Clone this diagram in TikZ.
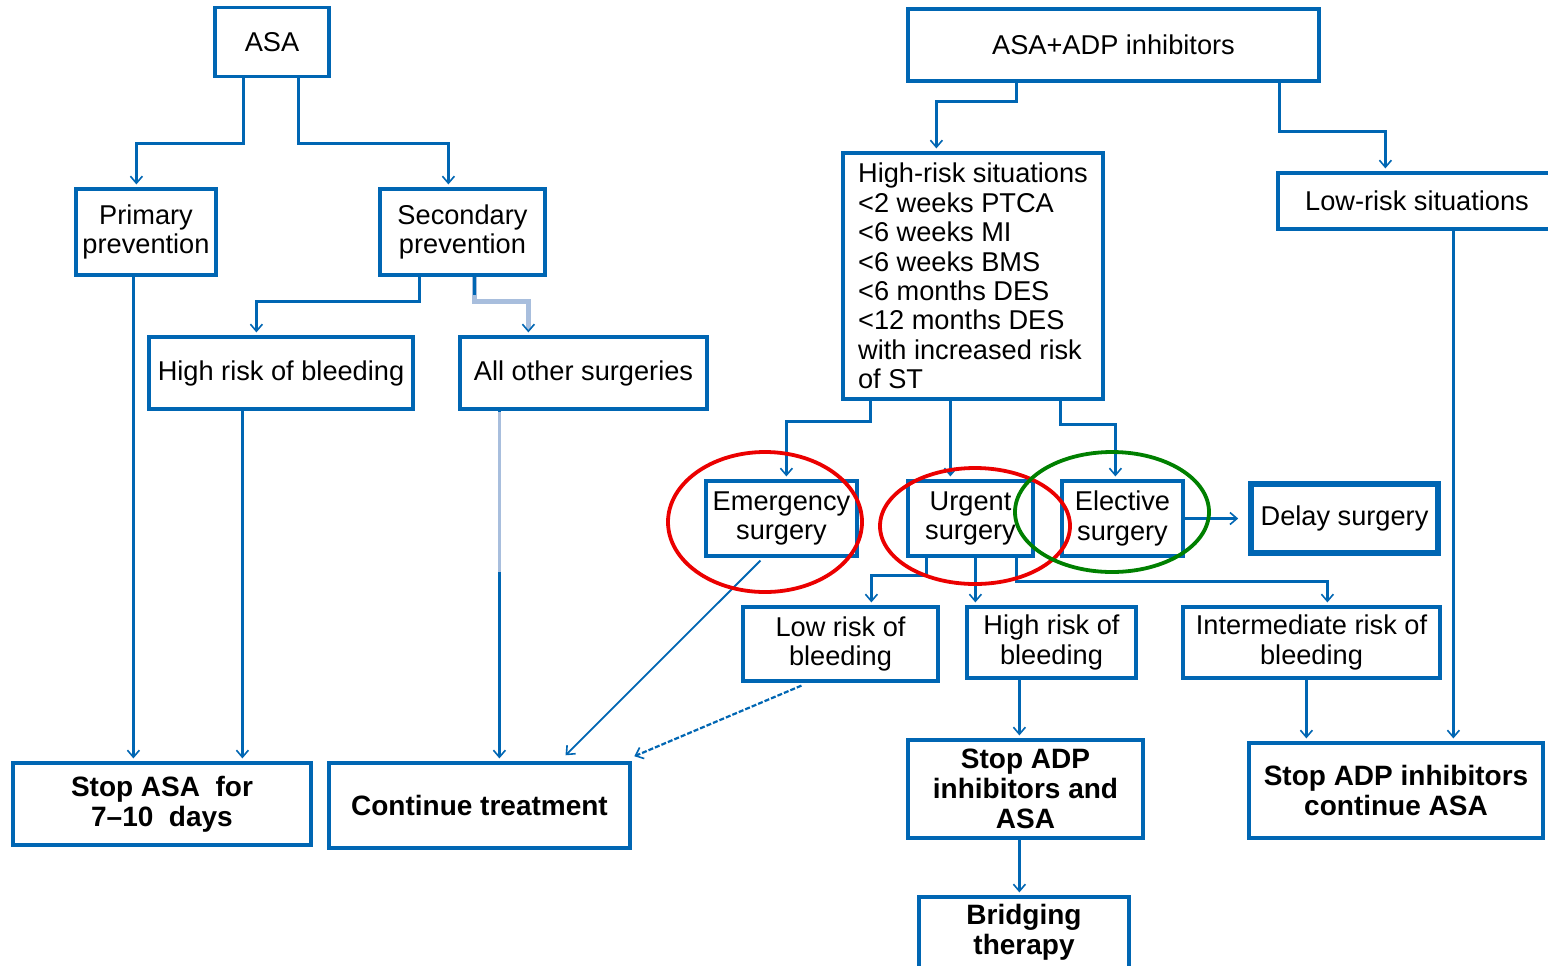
\documentclass[tikz,border=0pt]{standalone}
\usepackage{fontspec}
\setmainfont{Liberation Sans}
\usetikzlibrary{arrows.meta,calc}
\definecolor{bblue}{RGB}{0,102,179}
\definecolor{lblue}{RGB}{168,190,221}
\definecolor{ared}{RGB}{235,0,0}
\definecolor{agreen}{RGB}{0,128,0}
\begin{document}
\begin{tikzpicture}[x=0.5pt,y=-0.5pt,
  box/.style={draw=bblue, line width=1.6pt, inner sep=0pt, align=center,
    font=\fontsize{13.6}{14.7}\selectfont, text=black},
  bbox/.style={box, font=\fontsize{14}{15}\selectfont\bfseries},
  conn/.style={draw=bblue, line width=1.5pt,
    -{Straight Barb[length=3.5pt,width=6pt,line width=0.8pt]}, shorten >=1.5pt},
  plain/.style={draw=bblue, line width=1.5pt},
  ring/.style={line width=1.9pt}]
\useasboundingbox (0,0) rectangle (1548,965);
\clip (0,0) rectangle (1548,965);
\fill[white] (0,0) rectangle (1548,965);

% left tree
\node[box, minimum width=57pt, minimum height=34.5pt] (asa) at (272,42) {ASA};
\node[box, minimum width=70pt, minimum height=43pt] (prim) at (146,232) {Primary\\prevention};
\node[box, minimum width=82.5pt, minimum height=43pt] (sec) at (462.5,232) {Secondary\\prevention};
\node[box, minimum width=132pt, minimum height=36pt] (hrb1) at (281,373) {High risk of bleeding};
\node[box, minimum width=123.5pt, minimum height=36pt] (aos) at (583.5,373) {All other surgeries};
\node[bbox, minimum width=149pt, minimum height=41pt] (stopasa) at (162,804) {Stop ASA~ for\\7--10~ days};
\node[bbox, minimum width=150.5pt, minimum height=42.5pt] (cont) at (479.5,805.5) {Continue treatment};

% right tree
\node[box, minimum width=205.5pt, minimum height=36pt] (adp) at (1113.5,45) {ASA+ADP inhibitors};
\node[box, minimum width=130pt, minimum height=123pt, align=left] (hrs) at (973,276)
  {High-risk situations\\{<}2 weeks PTCA\\{<}6 weeks MI\\{<}6 weeks BMS\\{<}6 months DES\\{<}12 months DES\\with increased risk\\of ST};
\node[box, minimum width=139pt, minimum height=28pt] (lrs) at (1417,201) {Low-risk situations};
\node[box, minimum width=75.5pt, minimum height=37.5pt] (emer) at (781.5,518.5) {Emergency\\surgery};
\node[box, minimum width=62.5pt, minimum height=37.5pt] (urg) at (970.5,518.5) {Urgent\\surgery};
\node[box, minimum width=60.5pt, minimum height=37.5pt] (elec) at (1122.5,518.5) {Elective\\surgery};
\node[box, line width=2.8pt, minimum width=93.5pt, minimum height=34.5pt] (delay) at (1344.5,518.5) {Delay surgery};
\node[box, minimum width=97.5pt, minimum height=37pt] (lrb) at (840.5,644) {Low risk of\\bleeding};
\node[box, minimum width=84.5pt, minimum height=35.5pt] (hrb2) at (1051.5,642.5) {High risk of\\bleeding};
\node[box, minimum width=128.5pt, minimum height=35.5pt] (irb) at (1311.5,642.5) {Intermediate risk of\\bleeding};
\node[bbox, minimum width=117.5pt, minimum height=49pt] (stopadp) at (1025.5,789) {Stop ADP\\inhibitors and\\ASA};
\node[bbox, minimum width=105pt, minimum height=35.5pt] (bridge) at (1024,932.5) {Bridging\\therapy};
\node[bbox, minimum width=147pt, minimum height=47.5pt] (stopadp2) at (1396,790.5) {Stop ADP inhibitors\\continue ASA};

% left connectors
\draw[conn] ($(asa.south west)+(30,0)$) -- ++(0,65) -| ($(prim.north west)+(62,0)$);
\draw[conn] ($(asa.south west)+(85,0)$) -- ++(0,65) -| ($(sec.north west)+(70,0)$);
\draw[conn, line width=1.1pt] ($(prim.south west)+(59,0)$) -- ($(stopasa.north west)+(122,0)$);
\draw[conn] ($(sec.south west)+(41,0)$) -- ++(0,25) -| ($(hrb1.north west)+(109,0)$);
\draw[conn, draw=lblue, line width=2.6pt, -{Straight Barb[length=3.5pt,width=6pt,line width=0.8pt,color=bblue]}]
  ($(sec.south west)+(96,0)$) -- ++(0,25) -| ($(aos.north west)+(70,0)$);
\draw[plain] ($(sec.south west)+(96,0)$) -- ++(0,18);
\draw[conn, line width=1.1pt] ($(hrb1.south west)+(95,0)$) -- ($(stopasa.north west)+(231,0)$);
\draw[conn, line width=1.1pt] ($(aos.south west)+(41,0)$) -- ($(cont.north west)+(172,0)$);
\draw[draw=lblue, line width=1.6pt] ($(aos.south west)+(41,1)$) -- ++(0,160);

% right connectors
\draw[conn] ($(adp.south west)+(110,0)$) -- ++(0,19) -| ($(hrs.north west)+(95,0)$);
\draw[conn] ($(adp.south east)+(-41,0)$) -- ++(0,49) -| ($(lrs.north west)+(109,0)$);
\draw[conn] ($(hrs.south west)+(29,0)$) -- ++(0,21) -| ($(emer.north west)+(82,0)$);
\draw[conn] ($(hrs.south west)+(109,0)$) -- ($(urg.north west)+(44,0)$);
\draw[conn] ($(hrs.south west)+(219,0)$) -- ++(0,24) -| ($(elec.north west)+(55,0)$);
\draw[conn, shorten >=5pt] (elec.east) -- (delay.west);
\draw[conn] ($(urg.south west)+(20,0)$) -- ++(0,18) -| ($(lrb.north west)+(130,0)$);
\draw[conn] ($(urg.south west)+(69,0)$) -- ($(hrb2.north west)+(10,0)$);
\draw[conn] ($(urg.south west)+(110,0)$) -- ++(0,24) -| ($(irb.north west)+(146,0)$);
\draw[conn, line width=0.9pt] ($(emer.south west)+(56,3)$) -- ($(cont.north west)+(236,-4)$);
\draw[conn, line width=1.1pt, dash pattern=on 2.5pt off 1pt] ($(lrb.south west)+(60,3)$) -- ($(cont.north east)+(0,-4)$);
\draw[conn, line width=1.2pt] ($(hrb2.south west)+(54,0)$) -- ($(stopadp.north west)+(113,0)$);
\draw[conn, line width=1.2pt] ($(stopadp.south west)+(113,0)$) -- ($(bridge.north west)+(102,0)$);
\draw[conn, line width=1.2pt] ($(irb.south west)+(125,0)$) -- ($(stopadp2.north west)+(59,0)$);
\draw[conn, line width=1.2pt] ($(lrs.south west)+(177,0)$) -- ($(stopadp2.north west)+(206,0)$);

% highlight rings
\draw[ring, ared] (765,522) ellipse [x radius=48.5pt, y radius=35pt];
\draw[ring, ared] (975,526) ellipse [x radius=47.5pt, y radius=29pt];
\draw[ring, agreen] (1112,512) ellipse [x radius=48.5pt, y radius=30pt];
\end{tikzpicture}
\end{document}
